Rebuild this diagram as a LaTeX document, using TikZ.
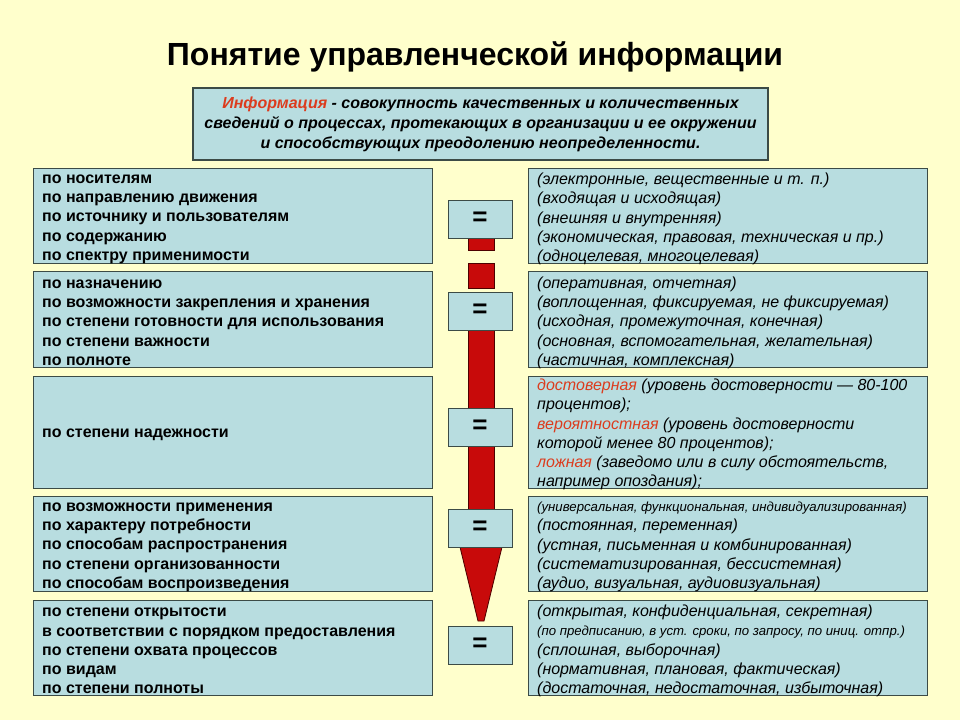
\documentclass[tikz,border=0pt]{standalone}
\usepackage{fontspec}
\setmainfont{Liberation Sans}
\usetikzlibrary{positioning}
\definecolor{bgyellow}{RGB}{255,255,204}
\definecolor{boxblue}{RGB}{184,221,224}
\definecolor{boxline}{RGB}{60,75,70}
\definecolor{barred}{RGB}{200,10,10}
\definecolor{wordred}{RGB}{220,60,30}
\tikzset
{
    infobox/.style  = {rectangle, draw=boxline, fill=boxblue, line width=1.2pt, minimum width=399pt, anchor=north west, inner sep=0pt},
    eqbox/.style    = {rectangle, draw=boxline, fill=boxblue, line width=1pt, minimum width=64pt, minimum height=38pt, font=\fontsize{26pt}{26pt}\selectfont\bfseries},
    lefttext/.style = {anchor=west, align=left, inner sep=0pt, font=\fontsize{16pt}{19.3pt}\selectfont\bfseries},
    righttext/.style= {anchor=west, align=left, inner sep=0pt, font=\fontsize{16pt}{19.3pt}\selectfont\itshape},
    bar/.style      = {fill=barred, draw=black!70!red, line width=0.8pt}
}
\newcommand{\sm}[1]{{\fontsize{13.2pt}{14pt}\selectfont #1}}
\newcommand{\rw}[1]{\textcolor{wordred}{#1}}
\begin{document}
\begin{tikzpicture}[x=1pt,y=-1pt]
    \fill[bgyellow] (0,0) rectangle (960,720);
    \useasboundingbox (0,0) rectangle (960,720);
    \node (title) at (475,57) {\fontsize{32pt}{32pt}\selectfont\bfseries Понятие управленческой информации};
    \node [rectangle, draw=boxline, fill=boxblue, line width=1.2pt, minimum width=575pt, minimum height=72pt] (def) at (480.5,124)
        {};
    \node [align=center, font=\fontsize{16pt}{20pt}\selectfont\bfseries\itshape] (deftext) at (def.center)
        {\textcolor{wordred}{Информация} - совокупность качественных и количественных\\
         сведений о процессах, протекающих в организации и ее окружении\\
         и способствующих преодолению неопределенности.};
    % red bar
    \draw [bar] (468,237) rectangle (494,250);
    \draw [bar] (468,263) rectangle (494,288);
    \draw [bar] (468,330) rectangle (494,409);
    \draw [bar] (468,446) rectangle (494,509);
    \draw [bar] (460,547) -- (502,547) -- (484,621) -- (478,621) -- cycle;
    % left boxes
    \node [infobox, minimum height=95pt] (l1) at (33,168) {};
    \node [infobox, minimum height=96pt] (l2) at (33,271) {};
    \node [infobox, minimum height=112pt] (l3) at (33,376) {};
    \node [infobox, minimum height=95pt] (l4) at (33,496) {};
    \node [infobox, minimum height=95pt] (l5) at (33,600) {};
    % right boxes
    \node [infobox, minimum height=95pt] (r1) at (528,168) {};
    \node [infobox, minimum height=96pt] (r2) at (528,271) {};
    \node [infobox, minimum height=112pt] (r3) at (528,376) {};
    \node [infobox, minimum height=95pt] (r4) at (528,496) {};
    \node [infobox, minimum height=95pt] (r5) at (528,600) {};
    % equals
    \node [eqbox] (e1) at (480,219) {=};
    \node [eqbox] (e2) at (480,311) {=};
    \node [eqbox] (e3) at (480,427) {=};
    \node [eqbox] (e4) at (480,528) {=};
    \node [eqbox] (e5) at (480,645) {=};
    % left texts
    \node [lefttext] (lt1) at ([xshift=9pt,yshift=-3pt]l1.west) {по носителям\\по направлению движения\\по источнику и пользователям\\по содержанию\\по спектру применимости};
    \node [lefttext] (lt2) at ([xshift=9pt,yshift=-3pt]l2.west) {по назначению\\по возможности закрепления и хранения\\по степени готовности для использования\\по степени важности\\по полноте};
    \node [lefttext] (lt3) at ([xshift=9pt,yshift=-2pt]l3.west) {по степени надежности};
    \node [lefttext] (lt4) at ([xshift=9pt,yshift=-3pt]l4.west) {по возможности применения\\по характеру потребности\\по способам распространения\\по степени организованности\\по способам воспроизведения};
    \node [lefttext] (lt5) at ([xshift=9pt,yshift=-3pt]l5.west) {по степени открытости\\в соответствии с порядком предоставления\\по степени охвата процессов\\по видам\\по степени полноты};
    % right texts
    \node [righttext] (rt1) at ([xshift=9pt,yshift=-3pt]r1.west) {(электронные, вещественные и т. п.)\\(входящая и исходящая)\\(внешняя и внутренняя)\\(экономическая, правовая, техническая и пр.)\\(одноцелевая, многоцелевая)};
    \node [righttext] (rt2) at ([xshift=9pt,yshift=-3pt]r2.west) {(оперативная, отчетная)\\(воплощенная, фиксируемая, не фиксируемая)\\(исходная, промежуточная, конечная)\\(основная, вспомогательная, желательная)\\(частичная, комплексная)};
    \node [righttext] (rt3) at ([xshift=9pt,yshift=-2pt]r3.west) {\rw{достоверная} (уровень достоверности — 80-100\\процентов);\\\rw{вероятностная} (уровень достоверности\\которой менее 80 процентов);\\\rw{ложная} (заведомо или в силу обстоятельств,\\например опоздания);};
    \node [righttext] (rt4) at ([xshift=9pt,yshift=-3pt]r4.west) {\sm{(универсальная, функциональная, индивидуализированная)}\\(постоянная, переменная)\\(устная, письменная и комбинированная)\\(систематизированная, бессистемная)\\(аудио, визуальная, аудиовизуальная)};
    \node [righttext] (rt5) at ([xshift=9pt,yshift=-3pt]r5.west) {(открытая, конфиденциальная, секретная)\\\sm{(по предписанию, в уст. сроки, по запросу, по иниц. отпр.)}\\(сплошная, выборочная)\\(нормативная, плановая, фактическая)\\(достаточная, недостаточная, избыточная)};
\end{tikzpicture}
\end{document}
